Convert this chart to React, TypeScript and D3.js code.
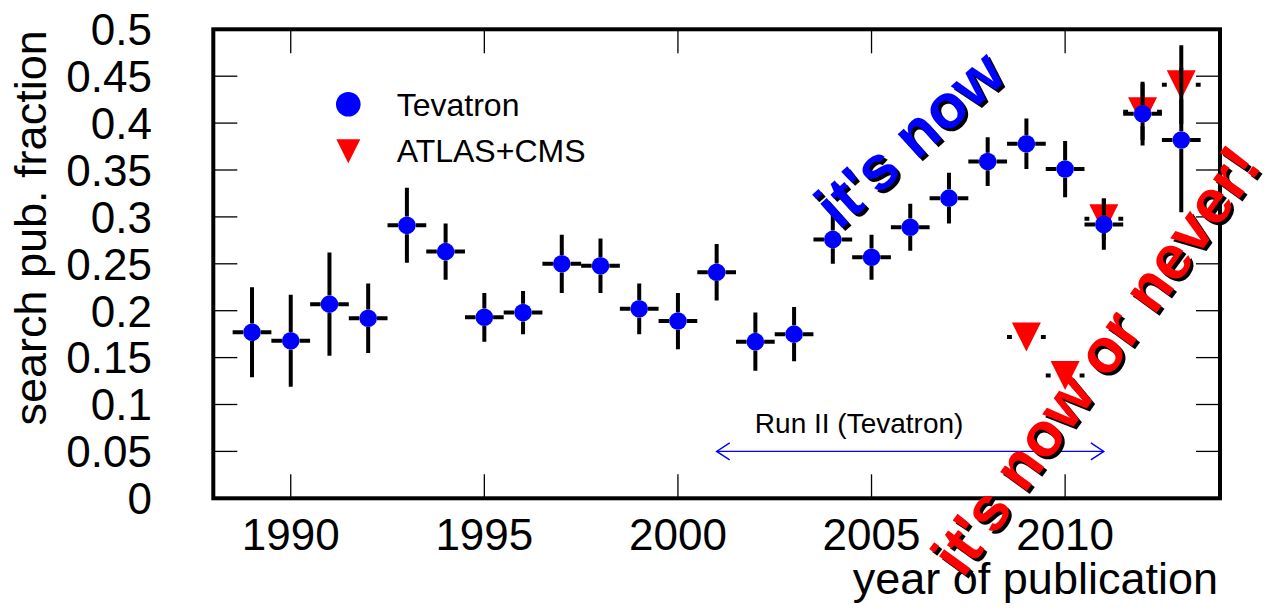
import React from "react";
import * as d3 from "d3";

// Publication years and the fraction of search publications per year
const tevatronYears = [1989, 1990, 1991, 1992, 1993, 1994, 1995, 1996, 1997, 1998, 1999, 2000, 2001, 2002, 2003, 2004, 2005, 2006, 2007, 2008, 2009, 2010, 2011, 2012, 2013];
const tevatronFraction = [0.177, 0.168, 0.207, 0.192, 0.291, 0.263, 0.193, 0.198, 0.250, 0.248, 0.202, 0.189, 0.241, 0.167, 0.175, 0.276, 0.257, 0.289, 0.320, 0.359, 0.378, 0.351, 0.292, 0.410, 0.382];
const tevatronError = [0.048, 0.049, 0.055, 0.037, 0.040, 0.030, 0.026, 0.023, 0.031, 0.029, 0.027, 0.030, 0.030, 0.031, 0.029, 0.026, 0.024, 0.025, 0.027, 0.026, 0.027, 0.030, 0.027, 0.034, 0.077];

const lhcYears = [2009, 2010, 2011, 2012, 2013];
const lhcFraction = [0.172, 0.131, 0.298, 0.412, 0.441];
const lhcError = [0.005, 0.005, 0.022, 0.030, 0.042];

const xTicks = [1990, 1995, 2000, 2005, 2010];
const yTicks = [0, 0.05, 0.1, 0.15, 0.2, 0.25, 0.3, 0.35, 0.4, 0.45, 0.5];
const yTickLabels = ["0", "0.05", "0.1", "0.15", "0.2", "0.25", "0.3", "0.35", "0.4", "0.45", "0.5"];

const runIIStart = 2001;
const runIIEnd = 2011;
const runIILevel = 0.05;

const W = 1266;
const H = 608;
const FONT = "'Liberation Sans', Arial, Helvetica, sans-serif";

const x = d3.scaleLinear().domain([1988, 2014]).range([213.3, 1220]);
const y = d3.scaleLinear().domain([0, 0.5]).range([498.3, 29.3]);

const BLUE = "#0000ff";
const RED = "#ff0000";
const BAR_W = 4;
const CIRCLE_R = 8.8;
const TRI_H = 14.5;

function triangleDown(cx: number, cy: number, h: number) {
  return `M${cx - h},${cy - h}L${cx + h},${cy - h}L${cx},${cy + h}Z`;
}

// Error bars leave a gap of the marker's half-size around the point
function ErrorBars({ xs, vs, es, gap }: { xs: number[]; vs: number[]; es: number[]; gap: number }) {
  return (
    <g stroke="#000" strokeWidth={BAR_W} fill="none">
      {xs.map((yr, i) => {
        const cx = x(yr);
        const cy = y(vs[i]);
        const x0 = x(yr - 0.5);
        const x1 = x(yr + 0.5);
        const yTop = y(vs[i] + es[i]);
        const yBot = y(vs[i] - es[i]);
        const segs: string[] = [];
        segs.push(`M${x0},${cy}L${cx - gap},${cy}`);
        segs.push(`M${cx + gap},${cy}L${x1},${cy}`);
        if (cy - yTop > gap) segs.push(`M${cx},${cy - gap}L${cx},${yTop}`);
        if (yBot - cy > gap) segs.push(`M${cx},${cy + gap}L${cx},${yBot}`);
        return <path key={yr} d={segs.join("")} />;
      })}
    </g>
  );
}

function ShadowText({ text, ox, oy, angle, color, size }: { text: string; ox: number; oy: number; angle: number; color: string; size: number }) {
  return (
    <g fontFamily={FONT} fontWeight="bold" fontSize={size}>
      <text transform={`translate(${ox + 3},${oy + 3}) rotate(${angle})`} fill="#000">{text}</text>
      <text transform={`translate(${ox},${oy}) rotate(${angle})`} fill={color}>{text}</text>
    </g>
  );
}

export default function App() {
  const left = x.range()[0];
  const right = x.range()[1];
  const bottom = y.range()[0];
  const top = y.range()[1];
  const tickLen = 24;

  const ay = y(runIILevel);
  const ax0 = x(runIIStart);
  const ax1 = x(runIIEnd);

  return (
    <svg width={W} height={H} style={{ position: "absolute", left: 0, top: 0, background: "#fff" }}>
      <rect x={0} y={0} width={W} height={H} fill="#fff" />

      {/* axis ticks */}
      <g stroke="#000" strokeWidth={1.3}>
        {yTicks.map((t) => (
          <g key={t}>
            <line x1={left} x2={left + tickLen} y1={y(t)} y2={y(t)} />
            <line x1={right} x2={right - tickLen} y1={y(t)} y2={y(t)} />
          </g>
        ))}
        {xTicks.map((t) => (
          <g key={t}>
            <line x1={x(t)} x2={x(t)} y1={bottom} y2={bottom - tickLen} />
            <line x1={x(t)} x2={x(t)} y1={top} y2={top + tickLen} />
          </g>
        ))}
      </g>

      {/* tick labels */}
      <g fontFamily={FONT} fontSize={44} fill="#000">
        {yTicks.map((t, i) => (
          <text key={t} x={152} y={y(t) + 15.8} textAnchor="end">{yTickLabels[i]}</text>
        ))}
        {xTicks.map((t) => (
          <text key={t} x={x(t)} y={550} textAnchor="middle">{t}</text>
        ))}
      </g>

      {/* axis titles */}
      <g fontFamily={FONT} fontSize={45} fill="#000">
        <text transform={`translate(46,${top + 1}) rotate(-90)`} textAnchor="end">search pub. fraction</text>
        <text x={1218} y={594} textAnchor="end">year of publication</text>
      </g>

      {/* Run II period */}
      <g stroke={BLUE} strokeWidth={1.4} fill="none">
        <line x1={ax0} x2={ax1} y1={ay} y2={ay} />
        <path d={`M${ax0 + 13},${ay - 8.5}L${ax0},${ay}L${ax0 + 13},${ay + 8.5}`} />
        <path d={`M${ax1 - 13},${ay - 8.5}L${ax1},${ay}L${ax1 - 13},${ay + 8.5}`} />
      </g>
      <text x={x(2002) - 0.5} y={y(0.0693)} fontFamily={FONT} fontSize={28} fill="#000">Run II (Tevatron)</text>

      {/* ATLAS+CMS */}
      <ErrorBars xs={lhcYears} vs={lhcFraction} es={lhcError} gap={TRI_H} />
      <g fill={RED}>
        {lhcYears.map((yr, i) => (
          <path key={yr} d={triangleDown(x(yr), y(lhcFraction[i]), TRI_H)} />
        ))}
      </g>

      {/* Tevatron */}
      <ErrorBars xs={tevatronYears} vs={tevatronFraction} es={tevatronError} gap={CIRCLE_R} />
      <g fill={BLUE}>
        {tevatronYears.map((yr, i) => (
          <circle key={yr} cx={x(yr)} cy={y(tevatronFraction[i])} r={CIRCLE_R} />
        ))}
      </g>

      {/* frame */}
      <rect x={left} y={top} width={right - left} height={bottom - top} fill="none" stroke="#000" strokeWidth={4} />

      {/* legend */}
      <circle cx={348.3} cy={104.3} r={12.3} fill={BLUE} />
      <path d={triangleDown(348.3, 151.3, 12)} fill={RED} />
      <g fontFamily={FONT} fontSize={32} fill="#000">
        <text x={396.7} y={115.7}>Tevatron</text>
        <text x={396.7} y={162.3}>ATLAS+CMS</text>
      </g>

      {/* slogans */}
      <ShadowText text="it's now" ox={839} oy={231} angle={-42} color={BLUE} size={62} />
      <ShadowText text="it's now or never!" ox={963} oy={579} angle={-54} color={RED} size={62} />
    </svg>
  );
}
